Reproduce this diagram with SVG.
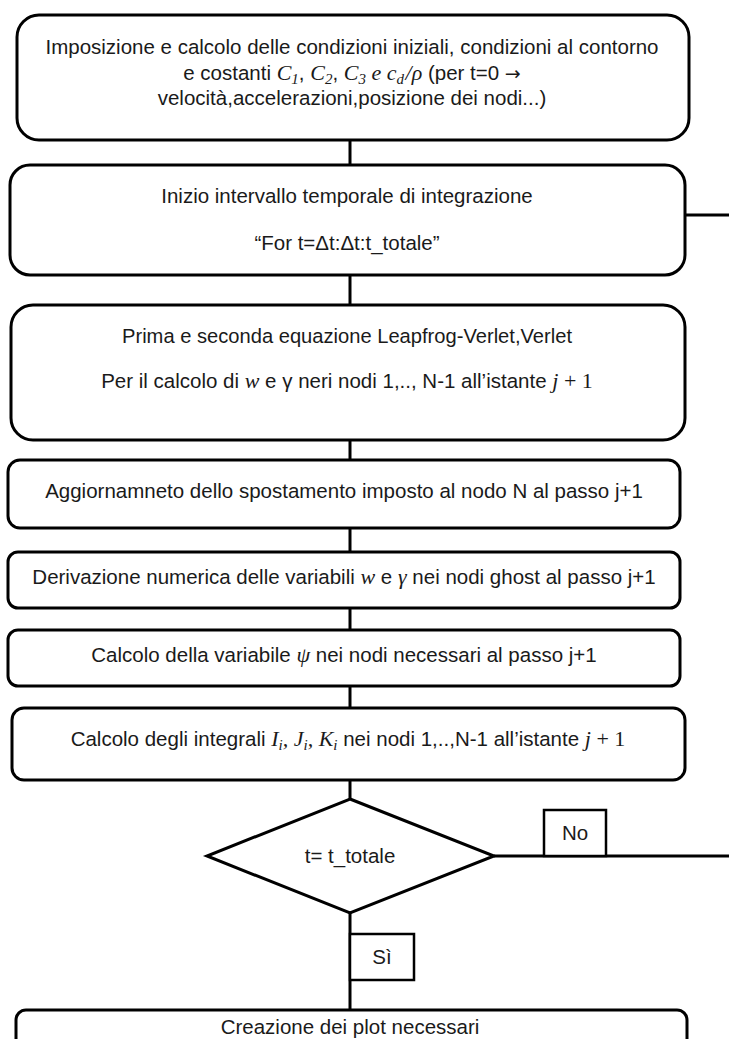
<svg xmlns="http://www.w3.org/2000/svg" width="729" height="1039" viewBox="0 0 729 1039">
  <style>
    .box { fill: #ffffff; stroke: #000000; stroke-width: 3; }
    .lab { fill: #ffffff; stroke: #000000; stroke-width: 2.5; }
    .wire { fill: none; stroke: #000000; stroke-width: 3; }
    text { font-family: "Liberation Sans", Arial, sans-serif; font-size: 20.5px; fill: #1a1a1a; text-anchor: middle; }
    .m { font-family: "Liberation Serif", "Times New Roman", serif; font-style: italic; font-size: 22px; }
    .s { font-family: "Liberation Serif", "Times New Roman", serif; font-style: italic; font-size: 15px; }
    .r { font-family: "Liberation Serif", "Times New Roman", serif; font-size: 22px; }
    .arr { font-family: "DejaVu Sans", sans-serif; font-size: 19px; }
  </style>

  <rect width="729" height="1039" fill="#ffffff"/>

  <!-- connectors -->
  <g id="connectors">
    <line class="wire" x1="350" y1="140" x2="350" y2="165"/>
    <line class="wire" x1="350" y1="275" x2="350" y2="305"/>
    <line class="wire" x1="350" y1="440" x2="350" y2="460"/>
    <line class="wire" x1="350" y1="528" x2="350" y2="552"/>
    <line class="wire" x1="350" y1="608" x2="350" y2="630"/>
    <line class="wire" x1="350" y1="686" x2="350" y2="708"/>
    <line class="wire" x1="350" y1="780" x2="350" y2="799"/>
    <line class="wire" x1="350" y1="913" x2="350" y2="1010"/>
    <line class="wire" x1="685" y1="215" x2="729" y2="215"/>
    <line class="wire" x1="494" y1="856" x2="729" y2="856"/>
  </g>

  <g id="init">
    <rect class="box" x="17" y="15" width="672" height="125" rx="22"/>
    <text x="352" y="54">Imposizione e calcolo delle condizioni iniziali, condizioni al contorno</text>
    <text x="352" y="80">e costanti <tspan class="m">C</tspan><tspan class="s" dy="4">1</tspan><tspan dy="-4">, </tspan><tspan class="m">C</tspan><tspan class="s" dy="4">2</tspan><tspan dy="-4">, </tspan><tspan class="m">C</tspan><tspan class="s" dy="4">3</tspan><tspan class="m" dy="-4"> e c</tspan><tspan class="s" dy="4">d</tspan><tspan class="m" dx="1.5" dy="-4">/ρ</tspan> (per t=0 <tspan class="arr">→</tspan></text>
    <text x="352" y="105">velocità,accelerazioni,posizione dei nodi...)</text>
  </g>

  <g id="loop-start">
    <rect class="box" x="10" y="165" width="675" height="110" rx="20"/>
    <text x="347" y="203">Inizio intervallo temporale di integrazione</text>
    <text x="347" y="250">“For t=Δt:Δt:t_totale”</text>
  </g>

  <g id="leapfrog">
    <rect class="box" x="11" y="305" width="674" height="135" rx="22"/>
    <text x="347" y="343" textLength="450" lengthAdjust="spacingAndGlyphs">Prima e seconda equazione Leapfrog-Verlet,Verlet</text>
    <text x="347" y="388">Per il calcolo di <tspan class="m">w</tspan> e  γ neri nodi 1,.., N-1 all’istante <tspan class="m">j</tspan><tspan class="r"> + 1</tspan></text>
  </g>

  <g id="update">
    <rect class="box" x="8" y="460" width="672" height="68" rx="12"/>
    <text x="344" y="498">Aggiornamneto dello spostamento imposto al nodo N al passo j+1</text>
  </g>

  <g id="ghost">
    <rect class="box" x="8" y="552" width="672" height="56" rx="10"/>
    <text x="344" y="584">Derivazione numerica delle variabili <tspan class="m">w</tspan> e <tspan class="m">γ</tspan> nei nodi ghost al passo j+1</text>
  </g>

  <g id="psi">
    <rect class="box" x="8" y="630" width="672" height="56" rx="10"/>
    <text x="344" y="662">Calcolo della variabile <tspan class="m">ψ</tspan> nei nodi necessari al passo j+1</text>
  </g>

  <g id="integrals">
    <rect class="box" x="12" y="708" width="673" height="72" rx="12"/>
    <text x="348" y="746">Calcolo degli integrali <tspan class="m">I</tspan><tspan class="s" dy="4">i</tspan><tspan class="m" dy="-4">, J</tspan><tspan class="s" dy="4">i</tspan><tspan class="m" dy="-4">, K</tspan><tspan class="s" dy="4">i</tspan><tspan dy="-4"> nei nodi 1,..,N-1 all’istante </tspan><tspan class="m">j</tspan><tspan class="r"> + 1</tspan></text>
  </g>

  <g id="check">
    <polygon class="box" points="350,799 494,856 350,913 207,856"/>
    <text x="350" y="863">t= t_totale</text>
  </g>

  <g id="label-no">
    <rect class="lab" x="544" y="810" width="62" height="46"/>
    <text x="575" y="840">No</text>
  </g>

  <g id="label-yes">
    <rect class="lab" x="350" y="934" width="64" height="46"/>
    <text x="382" y="964">Sì</text>
  </g>

  <g id="plots">
    <rect class="box" x="16" y="1010" width="671" height="60" rx="10"/>
    <text x="350" y="1034">Creazione dei plot necessari</text>
  </g>
</svg>
